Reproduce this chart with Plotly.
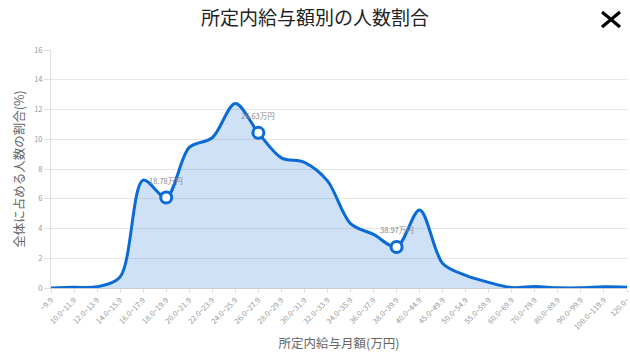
import plotly.graph_objects as go

categories = ["~9.9", "10.0~11.9", "12.0~13.9", "14.0~15.9", "16.0~17.9", "18.0~19.9",
              "20.0~21.9", "22.0~23.9", "24.0~25.9", "26.0~27.9", "28.0~29.9", "30.0~31.9",
              "32.0~33.9", "34.0~35.9", "36.0~37.9", "38.0~39.9", "40.0~44.9", "45.0~49.9",
              "50.0~54.9", "55.0~59.9", "60.0~69.9", "70.0~79.9", "80.0~89.9", "90.0~99.9",
              "100.0~119.9", "120.0~"]
values = [0.0, 0.05, 0.08, 0.75, 7.25, 6.08,
          9.45, 10.1, 12.4, 10.43, 8.75, 8.45,
          7.2, 4.33, 3.6, 2.76, 5.25, 1.65,
          0.85, 0.38, 0.03, 0.1, 0.01, 0.01,
          0.08, 0.05]
marker_idx = [5, 9, 15]
marker_labels = ["18.78万円", "26.63万円", "38.97万円"]
yticks = [0, 2, 4, 6, 8, 10, 12, 14, 16]

FONT = "Noto Sans CJK JP"
BLUE = "#0b6bd6"

fig = go.Figure()
fig.add_trace(go.Scatter(
    x=categories, y=values, mode="lines",
    line=dict(color=BLUE, width=3, shape="spline", smoothing=0.9),
    fill="tozeroy", fillcolor="rgba(11,107,214,0.2)",
    hoverinfo="skip", showlegend=False,
))
fig.add_trace(go.Scatter(
    x=[categories[i] for i in marker_idx], y=[values[i] for i in marker_idx],
    mode="markers",
    marker=dict(size=11, color="white", line=dict(color=BLUE, width=3)),
    hoverinfo="skip", showlegend=False,
))
for i, lab in zip(marker_idx, marker_labels):
    fig.add_annotation(x=categories[i], y=values[i], text=lab, showarrow=False,
                       yshift=17, font=dict(family=FONT, size=7.5, color="#888888"))

# close "X" icon (pixel positions mapped to paper coords of plot area 51..627 x 50..288)
for (x0, y0, x1, y1) in [(602, 12, 620, 27), (602, 27, 620, 12)]:
    fig.add_shape(type="line", xref="paper", yref="paper",
                  x0=(x0 - 51) / 576, x1=(x1 - 51) / 576,
                  y0=(288 - y0) / 238, y1=(288 - y1) / 238,
                  line=dict(color="black", width=3.2))

fig.update_layout(
    width=630, height=362,
    margin=dict(l=51, r=3, t=50, b=74, autoexpand=False),
    paper_bgcolor="white", plot_bgcolor="white",
    font=dict(family=FONT),
    title=dict(text="所定内給与額別の人数割合", x=0.5, xanchor="center", y=0.95, yanchor="middle",
               font=dict(family=FONT, size=19, color="#222222")),
    xaxis=dict(
        type="category", range=[0, len(categories) - 1], automargin=False,
        tickangle=-45, tickfont=dict(family=FONT, size=7.5, color="#999999"),
        showgrid=False, showline=True, linecolor="#cccccc", linewidth=1,
        ticks="outside", ticklen=4, tickcolor="#e0e0e0",
        title=dict(text="所定内給与月額(万円)", font=dict(family=FONT, size=12.5, color="#666666"), standoff=8),
    ),
    yaxis=dict(
        range=[0, 16], tickvals=yticks, automargin=False,
        tickfont=dict(family=FONT, size=7.5, color="#999999"),
        showgrid=True, gridcolor="#e6e6e6", gridwidth=1,
        showline=True, linecolor="#e0e0e0",
        ticks="outside", ticklen=6, tickcolor="#e0e0e0",
        zeroline=False,
        title=dict(text="全体に占める人数の割合(%)", font=dict(family=FONT, size=12.5, color="#666666"), standoff=6),
    ),
)

fig.write_html("out.html", config={"displayModeBar": False},
               post_script="document.body.style.margin='0px';")
